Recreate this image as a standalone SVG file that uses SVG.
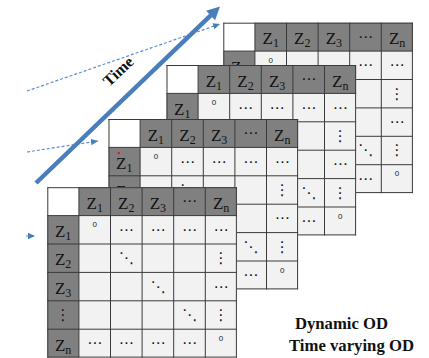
<svg xmlns="http://www.w3.org/2000/svg" width="429" height="358" viewBox="0 0 429 358">
<style>
.z{font-family:"Liberation Serif","DejaVu Serif",serif;font-size:17px;fill:#111;text-anchor:middle}
.s{font-size:12px}
.d{font-family:"DejaVu Sans",sans-serif;font-size:15px;fill:#111;text-anchor:middle}
.o{font-family:"Liberation Sans",Arial,sans-serif;font-size:8px;fill:#222;text-anchor:middle}
.lbl{font-family:"Liberation Serif","DejaVu Serif",serif;font-weight:bold;font-size:16px;fill:#111}
.dash{fill:none;stroke:#5b8fd0;stroke-width:1.2;stroke-dasharray:3 2}
</style>
<defs>
<marker id="ah" markerUnits="userSpaceOnUse" markerWidth="8" markerHeight="8" refX="7" refY="4" orient="auto">
<path d="M0,0.8 L7,4 L0,7.2 Z" fill="#4a7ebb"/>
</marker>
<g id="mbg">
<rect x="0" y="0" width="189.6" height="170.4" fill="#f2f2f2"/>
<rect x="31.6" y="0" width="158" height="28.4" fill="#808080"/>
<rect x="0" y="28.4" width="31.6" height="142" fill="#808080"/>
<rect x="0" y="0" width="31.6" height="28.4" fill="#ffffff"/>
<path d="M0.5 0V170.4M31.6 0V170.4M63.2 0V170.4M94.8 0V170.4M126.4 0V170.4M158 0V170.4M189.1 0V170.4M0 0.5H189.6M0 28.4H189.6M0 56.8H189.6M0 85.2H189.6M0 113.6H189.6M0 142H189.6M0 169.9H189.6" stroke="#3a3a3a" stroke-width="1" fill="none"/>
</g>
</defs>

<g id="matrix-t1" transform="translate(223.3,22.7)">
<use href="#mbg"/>
<text class="z" x="47.4" y="21.5">Z<tspan class="s" dy="3">1</tspan></text>
<text class="z" x="79" y="21.5">Z<tspan class="s" dy="3">2</tspan></text>
<text class="z" x="110.6" y="21.5">Z<tspan class="s" dy="3">3</tspan></text>
<text class="d" x="142.2" y="19.2">⋯</text>
<text class="z" x="173.8" y="21.5">Z<tspan class="s" dy="3">n</tspan></text>
<text class="z" x="15.8" y="49.9">Z<tspan class="s" dy="3">1</tspan></text>
<text class="o" x="47.4" y="39.9">0</text>
<text class="d" x="142.2" y="47.6">⋯</text>
<text class="d" x="173.8" y="47.6">⋯</text>
<text class="d" x="173.8" y="76">⋮</text>
<text class="d" x="173.8" y="104.4">⋯</text>
<text class="d" x="142.2" y="132.8">⋱</text>
<text class="d" x="173.8" y="132.8">⋮</text>
<text class="d" x="142.2" y="161.2">⋯</text>
<text class="o" x="173.8" y="153.5">0</text>
</g>

<g id="matrix-t2" transform="translate(166.5,65)">
<use href="#mbg"/>
<text class="z" x="47.4" y="21.5">Z<tspan class="s" dy="3">1</tspan></text>
<text class="z" x="79" y="21.5">Z<tspan class="s" dy="3">2</tspan></text>
<text class="z" x="110.6" y="21.5">Z<tspan class="s" dy="3">3</tspan></text>
<text class="d" x="142.2" y="19.2">⋯</text>
<text class="z" x="173.8" y="21.5">Z<tspan class="s" dy="3">n</tspan></text>
<text class="z" x="15.8" y="49.9">Z<tspan class="s" dy="3">1</tspan></text>
<text class="o" x="47.4" y="39.9">0</text>
<text class="d" x="79" y="47.6">⋯</text>
<text class="d" x="110.6" y="47.6">⋯</text>
<text class="d" x="142.2" y="47.6">⋯</text>
<text class="d" x="173.8" y="47.6">⋯</text>
<text class="d" x="173.8" y="76">⋮</text>
<text class="d" x="173.8" y="104.4">⋯</text>
<text class="d" x="142.2" y="132.8">⋱</text>
<text class="d" x="173.8" y="132.8">⋮</text>
<text class="d" x="142.2" y="161.2">⋯</text>
<text class="o" x="173.8" y="153.5">0</text>
</g>

<g id="matrix-t3" transform="translate(108.5,119)">
<use href="#mbg"/>
<text class="z" x="47.4" y="21.5">Z<tspan class="s" dy="3">1</tspan></text>
<text class="z" x="79" y="21.5">Z<tspan class="s" dy="3">2</tspan></text>
<text class="z" x="110.6" y="21.5">Z<tspan class="s" dy="3">3</tspan></text>
<text class="d" x="142.2" y="19.2">⋯</text>
<text class="z" x="173.8" y="21.5">Z<tspan class="s" dy="3">n</tspan></text>
<text class="z" x="15.8" y="49.9">Z<tspan class="s" dy="3">1</tspan></text>
<circle cx="10.4" cy="34" r="1.3" fill="#e0201c"/>
<text class="z" x="15.8" y="78.3">Z<tspan class="s" dy="3">2</tspan></text>
<text class="o" x="47.4" y="39.9">0</text>
<text class="d" x="79" y="47.6">⋯</text>
<text class="d" x="110.6" y="47.6">⋯</text>
<text class="d" x="142.2" y="47.6">⋯</text>
<text class="d" x="173.8" y="47.6">⋯</text>
<text class="d" x="79" y="76">⋱</text>
<text class="d" x="173.8" y="76">⋮</text>
<text class="d" x="173.8" y="104.4">⋯</text>
<text class="d" x="142.2" y="132.8">⋱</text>
<text class="d" x="173.8" y="132.8">⋮</text>
<text class="d" x="142.2" y="161.2">⋯</text>
<text class="o" x="173.8" y="153.5">0</text>
</g>

<g id="matrix-t4" transform="translate(47.3,187.2)">
<use href="#mbg"/>
<text class="z" x="47.4" y="21.5">Z<tspan class="s" dy="3">1</tspan></text>
<text class="z" x="79" y="21.5">Z<tspan class="s" dy="3">2</tspan></text>
<text class="z" x="110.6" y="21.5">Z<tspan class="s" dy="3">3</tspan></text>
<text class="d" x="142.2" y="19.2">⋯</text>
<text class="z" x="173.8" y="21.5">Z<tspan class="s" dy="3">n</tspan></text>
<text class="z" x="15.8" y="49.9">Z<tspan class="s" dy="3">1</tspan></text>
<text class="z" x="15.8" y="78.3">Z<tspan class="s" dy="3">2</tspan></text>
<text class="z" x="15.8" y="106.7">Z<tspan class="s" dy="3">3</tspan></text>
<text class="d" x="15.8" y="132.8">⋮</text>
<text class="z" x="15.8" y="163.5">Z<tspan class="s" dy="3">n</tspan></text>
<text class="o" x="47.4" y="39.9">0</text>
<text class="d" x="79" y="47.6">⋯</text>
<text class="d" x="110.6" y="47.6">⋯</text>
<text class="d" x="142.2" y="47.6">⋯</text>
<text class="d" x="173.8" y="47.6">⋯</text>
<text class="d" x="79" y="76">⋱</text>
<text class="d" x="173.8" y="76">⋮</text>
<text class="d" x="110.6" y="104.4">⋱</text>
<text class="d" x="173.8" y="104.4">⋯</text>
<text class="d" x="142.2" y="132.8">⋱</text>
<text class="d" x="173.8" y="132.8">⋮</text>
<text class="d" x="47.4" y="161.2">⋯</text>
<text class="d" x="79" y="161.2">⋯</text>
<text class="d" x="110.6" y="161.2">⋯</text>
<text class="d" x="142.2" y="161.2">⋯</text>
<text class="o" x="173.8" y="153.5">0</text>
</g>

<g id="connectors">
<line class="dash" x1="27" y1="91" x2="220" y2="24" marker-end="url(#ah)"/>
<line class="dash" x1="27" y1="152" x2="98" y2="141" marker-end="url(#ah)"/>
<line class="dash" x1="26" y1="236" x2="35" y2="236" marker-end="url(#ah)"/>
<line x1="36" y1="183" x2="211.5" y2="14.6" stroke="#4a7ebb" stroke-width="4.5"/>
<polygon points="220,6.5 215.1,20.2 206.1,10.8" fill="#4a7ebb"/>
</g>

<g id="time-label">
<text class="lbl" font-size="18" text-anchor="middle" transform="translate(118.5,71.5) rotate(-43)" y="5">Time</text>
</g>

<g id="caption">
<text class="lbl" x="295" y="329" textLength="93" lengthAdjust="spacingAndGlyphs">Dynamic OD</text>
<text class="lbl" x="289" y="351" textLength="125" lengthAdjust="spacingAndGlyphs">Time varying OD</text>
</g>
</svg>
